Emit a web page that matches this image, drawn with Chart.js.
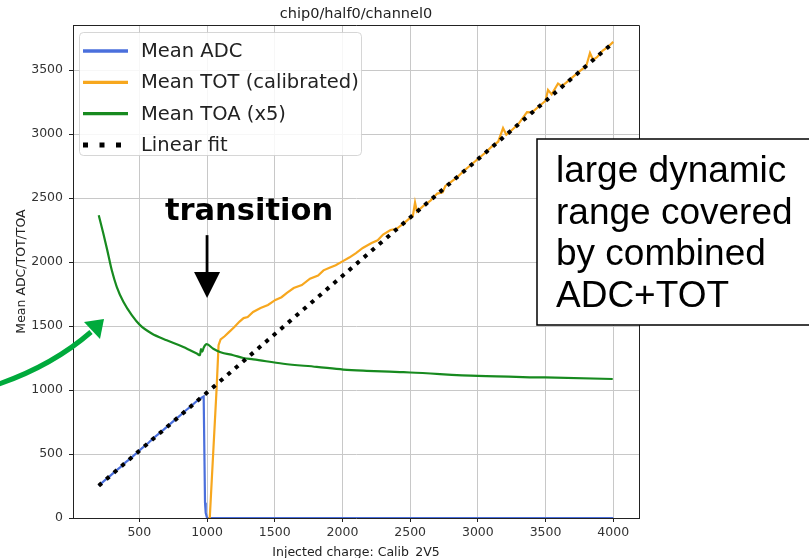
<!DOCTYPE html>
<html>
<head>
<meta charset="utf-8">
<title>chip0/half0/channel0</title>
<script src="https://cdn.jsdelivr.net/npm/chart.js@4.4.1/dist/chart.umd.min.js"></script>
<style>
    html, body { margin: 0; padding: 0; background: #fff; }
    canvas { display: block; }
</style>
</head>
<body>
<canvas id="linearityChart" width="809" height="558"></canvas>
<script>
/**
 * Charge injection scan: ADC / TOT / TOA response of chip0/half0/channel0
 */

// Mean ADC vs injected charge (saturates and drops to 0 at the TOT threshold)
const adcCharge = [200, 240, 280, 320, 360, 400, 440, 480, 520, 560, 600, 640, 680, 720, 760, 800, 840, 880, 920, 960, 975, 985, 990, 1000, 4000];
const adcMean   = [252, 290, 325, 362, 398, 437, 470, 508, 546, 580, 620, 655, 690, 728, 765, 800, 838, 872, 910, 940, 950, 120, 40, 0, 0];

// Mean TOT (calibrated)
const totCharge = [1010, 1020, 1045, 1070, 1085, 1100, 1130, 1160, 1200, 1240, 1270, 1300, 1340, 1395, 1450, 1505, 1550, 1590, 1640, 1700, 1760, 1820, 1860, 1900, 1950, 2000, 2050, 2100, 2150, 2215, 2260, 2300, 2355, 2400, 2450, 2500, 2520, 2536, 2550, 2600, 2650, 2700, 2740, 2760, 2800, 2850, 2900, 2950, 3000, 3050, 3100, 3150, 3186, 3210, 3250, 3300, 3363, 3400, 3450, 3500, 3518, 3545, 3592, 3620, 3650, 3700, 3750, 3800, 3828, 3850, 3880, 3920, 3960, 4000];
const totMean   = [0, 0, 500, 1000, 1350, 1395, 1420, 1450, 1490, 1535, 1562, 1570, 1610, 1641, 1665, 1704, 1725, 1759, 1797, 1820, 1870, 1895, 1935, 1953, 1975, 2005, 2035, 2070, 2110, 2148, 2170, 2215, 2250, 2260, 2300, 2345, 2360, 2465, 2395, 2440, 2480, 2535, 2545, 2595, 2625, 2665, 2715, 2760, 2805, 2850, 2900, 2940, 3047, 2995, 3030, 3080, 3171, 3170, 3215, 3260, 3345, 3310, 3395, 3375, 3400, 3445, 3490, 3530, 3633, 3580, 3600, 3650, 3680, 3720];

// Mean TOA, scaled x5
const toaCharge = [200, 234, 263, 296, 333, 382, 444, 505, 591, 702, 825, 924, 948, 955, 965, 975, 997, 1046, 1100, 1194, 1268, 1342, 1563, 1810, 2006, 2179, 2425, 2500, 3000, 3496, 3996];
const toaMean   = [2365, 2223, 2093, 1937, 1806, 1689, 1585, 1507, 1442, 1389, 1337, 1285, 1272, 1320, 1300, 1330, 1358, 1322, 1295, 1272, 1250, 1240, 1205, 1181, 1160, 1150, 1140, 1137, 1110, 1098, 1086];

// Linear fit end points
const fitCharge = [200, 4000];
const fitMean   = [252, 3714];

// Axis ticks
const xTicks = [500, 1000, 1500, 2000, 2500, 3000, 3500, 4000];
const yTicks = [0, 500, 1000, 1500, 2000, 2500, 3000, 3500];

const FONT = "'DejaVu Sans', sans-serif";

function toPoints(xs, ys) {
    return xs.map((x, i) => ({ x: x, y: ys[i] }));
}

/**
 * Frame, legend, title, axis labels and the annotations
 */
const decorations = {
    id: 'decorations',
    afterDatasetsDraw(chart) {
        const { ctx, chartArea: a } = chart;
        ctx.save();

        // top and right spines
        ctx.strokeStyle = '#222';
        ctx.lineWidth = 1;
        ctx.beginPath();
        ctx.moveTo(a.left, a.top + 0.5);
        ctx.lineTo(a.right + 0.5, a.top + 0.5);
        ctx.lineTo(a.right + 0.5, a.bottom);
        ctx.stroke();

        // legend box
        const lx = 79, ly = 32, lw = 282, lh = 123, r = 4;
        ctx.fillStyle = 'rgba(255,255,255,0.85)';
        ctx.strokeStyle = 'rgba(204,204,204,0.8)';
        ctx.beginPath();
        ctx.roundRect(lx + 0.5, ly + 0.5, lw, lh, r);
        ctx.fill();
        ctx.stroke();

        ctx.font = '19.5px ' + FONT;
        ctx.textBaseline = 'middle';
        ctx.textAlign = 'left';
        chart.data.datasets.forEach((ds, i) => {
            const y = 51 + i * 31.3;
            ctx.strokeStyle = ds.borderColor;
            ctx.lineWidth = ds.borderDash ? 5 : 3.3;
            ctx.lineCap = 'butt';
            ctx.setLineDash(ds.borderDash ? [5, 11.5] : []);
            ctx.beginPath();
            ctx.moveTo(83, y);
            ctx.lineTo(128, y);
            ctx.stroke();
            ctx.setLineDash([]);
            ctx.fillStyle = '#222';
            ctx.fillText(ds.label, 141, y + 1);
        });
        ctx.restore();
    },
    afterDraw(chart) {
        const { ctx, chartArea: a, scales } = chart;
        const cx = (a.left + a.right) / 2;
        ctx.save();

        // title and axis labels
        ctx.fillStyle = '#222';
        ctx.textAlign = 'center';
        ctx.textBaseline = 'alphabetic';
        ctx.font = '14.5px ' + FONT;
        ctx.fillText('chip0/half0/channel0', cx, 18);
        ctx.font = '12.5px ' + FONT;
        ctx.fillText('Injected charge: Calib_2V5', cx, 556);
        ctx.save();
        ctx.translate(25, (a.top + a.bottom) / 2);
        ctx.rotate(-Math.PI / 2);
        ctx.fillText('Mean ADC/TOT/TOA', 0, 0);
        ctx.restore();

        // "transition" marker above the ADC/TOT switch
        const tx = scales.x.getPixelForValue(1000);
        ctx.fillStyle = '#000';
        ctx.font = "bold 30.5px 'DejaVu Sans', sans-serif";
        ctx.fillText('transition', scales.x.getPixelForValue(1310), scales.y.getPixelForValue(2325));
        const y0 = scales.y.getPixelForValue(2210);
        const yTip = scales.y.getPixelForValue(1718);
        ctx.strokeStyle = '#000';
        ctx.lineWidth = 2.8;
        ctx.beginPath();
        ctx.moveTo(tx, y0);
        ctx.lineTo(tx, yTip - 24);
        ctx.stroke();
        ctx.beginPath();
        ctx.moveTo(tx - 13, yTip - 26);
        ctx.lineTo(tx + 13, yTip - 26);
        ctx.lineTo(tx, yTip);
        ctx.closePath();
        ctx.fill();

        // green pointer towards the TOA curve
        ctx.strokeStyle = '#00aa3c';
        ctx.fillStyle = '#00aa3c';
        ctx.lineWidth = 5;
        ctx.beginPath();
        ctx.moveTo(-4, 385);
        ctx.quadraticCurveTo(52, 366, 91, 332);
        ctx.stroke();
        ctx.beginPath();
        ctx.moveTo(104, 319);
        ctx.lineTo(84, 322);
        ctx.lineTo(100, 339);
        ctx.closePath();
        ctx.fill();

        // note box on the right
        ctx.fillStyle = '#fff';
        ctx.strokeStyle = '#000';
        ctx.lineWidth = 1.5;
        ctx.beginPath();
        ctx.rect(537, 139, 290, 186);
        ctx.fill();
        ctx.stroke();
        ctx.fillStyle = '#000';
        ctx.textAlign = 'left';
        ctx.font = "37px 'Liberation Sans', Arial, sans-serif";
        ['large dynamic', 'range covered', 'by combined', 'ADC+TOT'].forEach((line, i) => {
            ctx.fillText(line, 556, 182 + i * 41.7);
        });
        ctx.restore();
    }
};

const ctx = document.getElementById('linearityChart').getContext('2d');
const linearityChart = new Chart(ctx, {
    type: 'line',
    data: {
        datasets: [
            {
                label: 'Mean ADC',
                data: toPoints(adcCharge, adcMean),
                borderColor: '#4a6fdc',
                borderWidth: 2.2,
                order: 3
            },
            {
                label: 'Mean TOT (calibrated)',
                data: toPoints(totCharge, totMean),
                borderColor: '#f7a71e',
                borderWidth: 2.2,
                order: 2
            },
            {
                label: 'Mean TOA (x5)',
                data: toPoints(toaCharge, toaMean),
                borderColor: '#178a1f',
                borderWidth: 2.2,
                cubicInterpolationMode: 'monotone',
                order: 1
            },
            {
                label: 'Linear fit',
                data: toPoints(fitCharge, fitMean),
                borderColor: '#000',
                borderWidth: 4,
                borderDash: [4, 6],
                borderCapStyle: 'butt',
                order: 0
            }
        ]
    },
    options: {
        responsive: false,
        animation: false,
        devicePixelRatio: 1,
        elements: {
            point: { radius: 0 },
            line: { tension: 0, fill: false }
        },
        layout: { padding: { left: 0, top: 25, right: 170, bottom: 0 } },
        plugins: {
            legend: { display: false },
            title: { display: false },
            tooltip: { enabled: false }
        },
        scales: {
            x: {
                type: 'linear',
                min: 10,
                max: 4190,
                afterBuildTicks: (scale) => { scale.ticks = xTicks.map(v => ({ value: v })); },
                afterFit: (scale) => { scale.height = 40; },
                grid: { color: '#c8c8c8', tickColor: '#222', tickLength: 4 },
                border: { color: '#222', width: 1 },
                ticks: {
                    color: '#333',
                    font: { family: FONT, size: 12.5 },
                    padding: 3,
                    maxRotation: 0,
                    callback: (value) => String(value)
                }
            },
            y: {
                type: 'linear',
                min: 0,
                max: 3852,
                afterBuildTicks: (scale) => { scale.ticks = yTicks.map(v => ({ value: v })); },
                afterFit: (scale) => { scale.width = 73; },
                grid: { color: '#c8c8c8', tickColor: '#222', tickLength: 4 },
                border: { color: '#222', width: 1 },
                ticks: {
                    color: '#333',
                    font: { family: FONT, size: 12.5 },
                    padding: 6,
                    callback: (value) => String(value)
                }
            }
        }
    },
    plugins: [decorations]
});
</script>
</body>
</html>
